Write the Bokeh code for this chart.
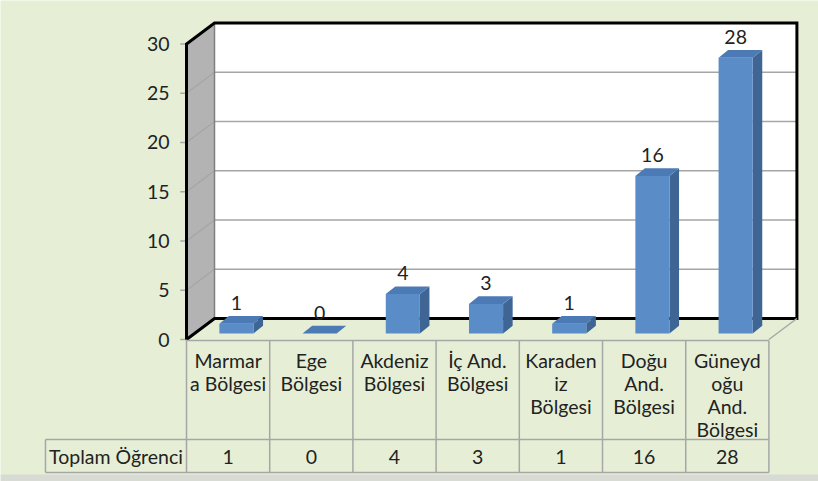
from bokeh.plotting import figure
from bokeh.models import Range1d
from bokeh.core.properties import value
from bokeh.embed import file_html
from bokeh.resources import INLINE

# ---- data ----
categories = ["Marmar\na Bölgesi", "Ege\nBölgesi", "Akdeniz\nBölgesi", "İç And.\nBölgesi",
              "Karaden\niz\nBölgesi", "Doğu\nAnd.\nBölgesi", "Güneyd\noğu\nAnd.\nBölgesi"]
values = [1, 0, 4, 3, 1, 16, 28]
y_ticks = [0, 5, 10, 15, 20, 25, 30]
y_tick_labels = ["0", "5", "10", "15", "20", "25", "30"]
row_label = "Toplam Öğrenci"

# ---- style / geometry ----
BG = "#E6EFD6"
GRID = "#A6A6A6"
FONT = value("Lato")
FS = "19.5px"
TXT = "#222222"
DX, DV = 0.3365, 2.13        # wall depth in data units
N = len(values)
XR = N + DX                  # back wall right
V0, BDX, BDV = 0.61, 0.115, 0.78  # bar base lift and bar depth
BW = 0.41

p = figure(width=818, height=481, output_backend="svg", toolbar_location=None,
           x_range=Range1d(-2.2356, 7.596), y_range=Range1d(-14.416, 34.416),
           min_border=0, outline_line_color=None,
           background_fill_color=BG, border_fill_color=BG)
p.axis.visible = False
p.grid.visible = False

# bottom shade strip
p.quad(left=[-2.2356], right=[7.596], bottom=[-14.416], top=[-13.71],
       fill_color="#D8DBD3", line_color=None)

top = max(y_ticks)
# side wall
p.patch([0, 0, DX, DX], [0, top, top + DV, DV], fill_color="#B3B3B3", line_color=None)
# back wall
p.quad(left=[DX], right=[XR], bottom=[DV], top=[top + DV], fill_color="white", line_color=None)
# gridlines
for t in y_ticks[1:-1]:
    p.line([0, DX, XR], [t, t + DV, t + DV], line_color=GRID, line_width=1.5)
# tick marks
for t in y_ticks:
    p.line([-0.075, 0], [t, t], line_color=GRID, line_width=1.5)
p.line([DX, DX], [DV, top + DV], line_color="#7F7F7F", line_width=1.5)
# black outline
p.line([0, 0, DX, XR, XR, DX, 0], [0, top, top + DV, top + DV, DV, DV, 0],
       line_color="black", line_width=3, line_join="miter")
p.line([XR, N], [DV, 0], line_color=GRID, line_width=1.5)

# tick labels
p.text(x=[-0.204] * len(y_ticks), y=y_ticks, text=y_tick_labels, text_align="right",
       text_baseline="middle", text_font=FONT, text_font_size=FS, text_color=TXT)

# bars
tx, ty, sx, sy = [], [], [], []
lefts, rights, bots, tops = [], [], [], []
for i, v in enumerate(values):
    L = i + 0.6 - BW / 2
    R = i + 0.6 + BW / 2
    T = V0 + v
    lefts.append(L); rights.append(R); bots.append(V0); tops.append(T)
    tx.append([L, R, R + BDX, L + BDX]); ty.append([T, T, T + BDV, T + BDV])
    sx.append([R, R + BDX, R + BDX, R]); sy.append([V0, V0 + BDV, T + BDV, T])
p.patches(sx, sy, fill_color="#3F6594", line_color=None)
p.quad(left=lefts, right=rights, bottom=bots, top=tops, fill_color="#5A8DC8", line_color=None)
p.patches(tx, ty, fill_color="#4B7AB4", line_color=None)

# value labels
p.text(x=[i + 0.6 for i in range(N)], y=[v + V0 + BDV for v in values],
       text=[str(v) for v in values], text_align="center", text_baseline="bottom",
       y_offset=-6, text_font=FONT, text_font_size=FS, text_color=TXT)

# data table
ROW1, ROW2, ROW3 = -0.1, -10.15, -13.5
LC = -1.695
p.line([0, N], [ROW1, ROW1], line_color=GRID, line_width=1.5)
p.line([LC, N], [ROW2, ROW2], line_color=GRID, line_width=1.5)
p.line([LC, N], [ROW3, ROW3], line_color=GRID, line_width=1.5)
for i in range(N + 1):
    p.line([i, i], [ROW1, ROW3], line_color=GRID, line_width=1.5)
p.line([LC, LC], [ROW2, ROW3], line_color=GRID, line_width=1.5)

p.text(x=[i + 0.5 for i in range(N)], y=[-1.015] * N, text=categories, text_align="center",
       text_baseline="top", text_font=FONT, text_font_size=FS, text_color=TXT,
       text_line_height=1.0)
p.text(x=[i + 0.5 for i in range(N)], y=[-11.88] * N, text=[str(v) for v in values],
       text_align="center", text_baseline="middle", text_font=FONT, text_font_size=FS,
       text_color=TXT)
p.text(x=[LC / 2], y=[-11.88], text=[row_label], text_align="center", text_baseline="middle",
       text_font=FONT, text_font_size=FS, text_color=TXT)

open("out.html", "w").write(file_html(p, INLINE))
